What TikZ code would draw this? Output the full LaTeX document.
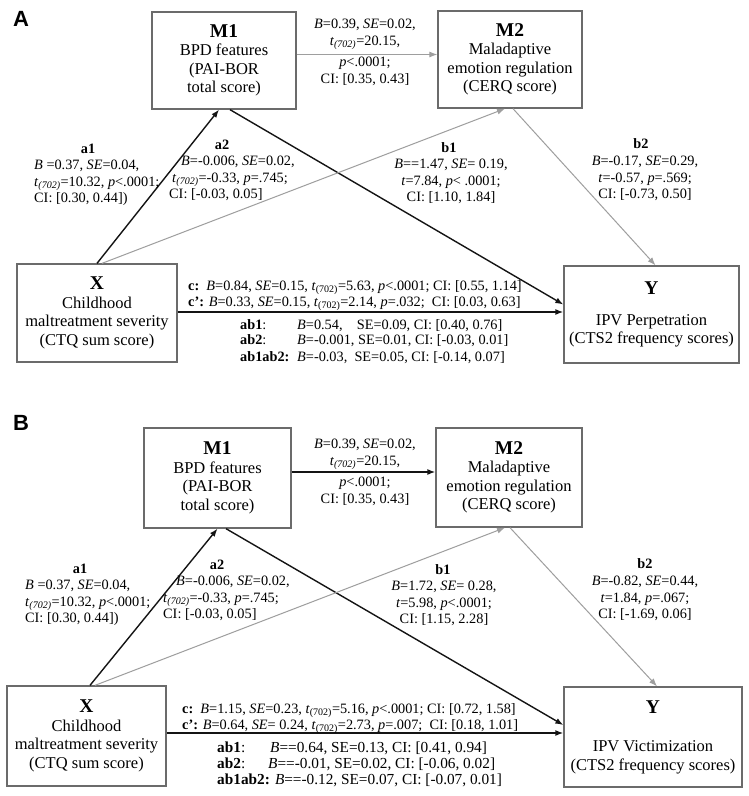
\documentclass[tikz,border=0pt]{standalone}
\usepackage{fontspec}
\setmainfont{Liberation Serif}
\newfontfamily\panelfont{Liberation Sans}
\usetikzlibrary{arrows.meta}
\newcommand{\tsv}{\textit{t}\textsubscript{\textit{(702)}}}
\newcommand{\tsu}{\textit{t}\textsubscript{(702)}}
\newcommand{\Bi}{\textit{B}}
\newcommand{\SEi}{\textit{SE}}
\newcommand{\pv}{\textit{p}}
\newcommand{\hd}[1]{{\fontsize{19.5}{20}\selectfont\bfseries #1}}
\definecolor{boxgray}{gray}{0.42}
\definecolor{lgray}{gray}{0.62}
\definecolor{ink}{gray}{0.08}
\begin{document}
\begin{tikzpicture}[x=1pt, y=-1pt,
  box/.style={draw=boxgray, line width=1.3pt, inner sep=0pt, align=center,
    font=\fontsize{16.5}{18.5}\selectfont},
  stat/.style={inner sep=0pt, font=\fontsize{14.3}{16.5}\selectfont},
  statw/.style={inner sep=0pt, font=\fontsize{15.3}{16.5}\selectfont},
  hst/.style={inner sep=0pt, font=\fontsize{14.3}{16.5}\selectfont\bfseries},
  panel/.style={inner sep=0pt, font=\panelfont\bfseries\fontsize{22}{22}\selectfont},
  blk/.style={draw=ink, line width=1.4pt, -{Latex[length=8pt,width=6pt]}},
  gry/.style={draw=lgray, line width=1pt, -{Latex[length=8pt,width=6pt]}}]
\useasboundingbox (0,0) rectangle (749,796);
\fill[white] (0,0) rectangle (749,796);

% ---------------- Panel A ----------------
\node[panel] (lA) at (21,19) {A};
\node[box, minimum width=160pt, minimum height=98pt] (X) at (97,313)
  {\hd{X}\\Childhood\\maltreatment severity\\(CTQ sum score)};
\node[box, minimum width=144pt, minimum height=97pt] (M1) at (224,60.5)
  {\hd{M1}\\BPD features\\(PAI-BOR\\total score)};
\node[box, minimum width=144pt, minimum height=97pt] (M2) at (510,59.5)
  {\hd{M2}\\Maladaptive\\emotion regulation\\(CERQ score)};
\node[box, minimum width=175pt, minimum height=97pt] (Y) at (651.5,314.5)
  {\hd{Y}\\[12pt]IPV Perpetration\\(CTS2 frequency scores)};

\draw[blk] (X.north) -- ([xshift=-5pt]M1.south);
\draw[blk] ([xshift=6pt]M1.south) -- ([yshift=10pt]Y.west);
\draw[gry] ([xshift=5pt]X.north) -- ([xshift=-5pt]M2.south);
\draw[gry] ([xshift=3pt]M2.south) -- ([xshift=4pt]Y.north);
\draw[gry] ([yshift=6pt]M1.east) -- ([yshift=6pt]M1.east -| M2.west);
\draw[blk] ([yshift=1pt]X.east) -- ([yshift=1pt]X.east -| Y.west);

\node[stat, anchor=north, align=center] (tA12) at (365,19)
  {\Bi=0.39, \SEi=0.02,\\\tsv=20.15,\\[5pt]\pv<.0001;\\CI: [0.35, 0.43]};
\node[hst] (ha1A) at (88,149) {a1};
\node[stat, anchor=north west, align=left] (ta1A) at (34,160)
  {\Bi\ =0.37, \SEi=0.04,\\\tsv=10.32, \pv<.0001;\\CI: [0.30, 0.44])};
\node[hst] (ha2A) at (222,145) {a2};
\node[stat, anchor=north west, align=left] (ta2A) at (169,156)
  {\hspace*{12pt}\Bi=-0.006, \SEi=0.02,\\\hspace*{3pt}\tsv=-0.33, \pv=.745;\\CI: [-0.03, 0.05]};
\node[hst] (hb1A) at (449,148) {b1};
\node[stat, anchor=north, align=center] (tb1A) at (451,159)
  {\Bi==1.47, \SEi= 0.19,\\\textit{t}=7.84, \pv< .0001;\\CI: [1.10, 1.84]};
\node[hst] (hb2A) at (641,144) {b2};
\node[stat, anchor=north, align=center] (tb2A) at (645,156)
  {\Bi=-0.17, \SEi=0.29,\\\textit{t}=-0.57, \pv=.569;\\CI: [-0.73, 0.50]};

\node[stat, anchor=base west] (cA) at (188,290.5)
  {\textbf{c:}\enspace\Bi=0.84, \SEi=0.15, \tsu=5.63, \pv<.0001; CI: [0.55, 1.14]};
\node[stat, anchor=base west] (cpA) at (188,306.5)
  {\textbf{c’:} \Bi=0.33, \SEi=0.15, \tsu=2.14, \pv=.032;\enspace CI: [0.03, 0.63]};
\node[stat, anchor=base west] (ab1lA) at (240,329.5) {\textbf{ab1}:};
\node[stat, anchor=base west] (ab1vA) at (297,329.5) {\Bi=0.54,\quad SE=0.09, CI: [0.40, 0.76]};
\node[stat, anchor=base west] (ab2lA) at (240,344.5) {\textbf{ab2}:};
\node[stat, anchor=base west] (ab2vA) at (297,344.5) {\Bi=-0.001, SE=0.01, CI: [-0.03, 0.01]};
\node[stat, anchor=base west] (ab3lA) at (240,361.5) {\textbf{ab1ab2:}};
\node[stat, anchor=base west] (ab3vA) at (297,361.5) {\Bi=-0.03,\enspace SE=0.05, CI: [-0.14, 0.07]};

% ---------------- Panel B ----------------
\node[panel] (lB) at (21,423) {B};
\node[box, minimum width=159pt, minimum height=100pt] (XB) at (86.5,736)
  {\hd{X}\\Childhood\\maltreatment severity\\(CTQ sum score)};
\node[box, minimum width=147pt, minimum height=100pt] (M1B) at (217.5,478)
  {\hd{M1}\\BPD features\\(PAI-BOR\\total score)};
\node[box, minimum width=146pt, minimum height=99pt] (M2B) at (509,477.5)
  {\hd{M2}\\Maladaptive\\emotion regulation\\(CERQ score)};
\node[box, minimum width=178pt, minimum height=100pt] (YB) at (653,737)
  {\hd{Y}\\[20pt]IPV Victimization\\(CTS2 frequency scores)};

\draw[blk] ([xshift=3.5pt]XB.north) -- (M1B.south);
\draw[blk] ([xshift=8.5pt]M1B.south) -- ([yshift=12pt]YB.west);
\draw[gry] ([xshift=8.5pt]XB.north) -- ([xshift=-4pt]M2B.south);
\draw[gry] ([xshift=1pt]M2B.south) -- ([xshift=4pt]YB.north);
\draw[blk] ([yshift=6pt]M1B.east) -- ([yshift=6pt]M1B.east -| M2B.west);
\draw[blk] ([yshift=3pt]XB.east) -- ([yshift=3pt]XB.east -| YB.west);

\node[stat, anchor=north, align=center] (tB12) at (365,439)
  {\Bi=0.39, \SEi=0.02,\\\tsv=20.15,\\[5pt]\pv<.0001;\\CI: [0.35, 0.43]};
\node[hst] (ha1B) at (80,569) {a1};
\node[stat, anchor=north west, align=left] (ta1B) at (25,580)
  {\Bi\ =0.37, \SEi=0.04,\\\tsv=10.32, \pv<.0001;\\CI: [0.30, 0.44])};
\node[hst] (ha2B) at (217,565) {a2};
\node[stat, anchor=north west, align=left] (ta2B) at (163,576)
  {\hspace*{13pt}\Bi=-0.006, \SEi=0.02,\\\tsv=-0.33, \pv=.745;\\CI: [-0.03, 0.05]};
\node[hst] (hb1B) at (443,570) {b1};
\node[stat, anchor=north, align=center] (tb1B) at (444,581)
  {\Bi=1.72, \SEi= 0.28,\\\textit{t}=5.98, \pv<.0001;\\CI: [1.15, 2.28]};
\node[hst] (hb2B) at (645,564) {b2};
\node[stat, anchor=north, align=center] (tb2B) at (645,576)
  {\Bi=-0.82, \SEi=0.44,\\\textit{t}=1.84, \pv=.067;\\CI: [-1.69, 0.06]};

\node[stat, anchor=base west] (cB) at (182,713.5)
  {\textbf{c:}\enspace\Bi=1.15, \SEi=0.23, \tsu=5.16, \pv<.0001; CI: [0.72, 1.58]};
\node[stat, anchor=base west] (cpB) at (182,729.5)
  {\textbf{c’:} \Bi=0.64, \SEi= 0.24, \tsu=2.73, \pv=.007;\enspace CI: [0.18, 1.01]};
\node[statw, anchor=base west] (ab1lB) at (217,752.5) {\textbf{ab1}:};
\node[statw, anchor=base west] (ab1vB) at (270,752.5) {\Bi==0.64, SE=0.13, CI: [0.41, 0.94]};
\node[statw, anchor=base west] (ab2lB) at (217,768.5) {\textbf{ab2}:};
\node[statw, anchor=base west] (ab2vB) at (268,768.5) {\Bi==-0.01, SE=0.02, CI: [-0.06, 0.02]};
\node[statw, anchor=base west] (ab3B) at (217,784.5)
  {\textbf{ab1ab2:} \Bi==-0.12, SE=0.07, CI: [-0.07, 0.01]};
\end{tikzpicture}
\end{document}
